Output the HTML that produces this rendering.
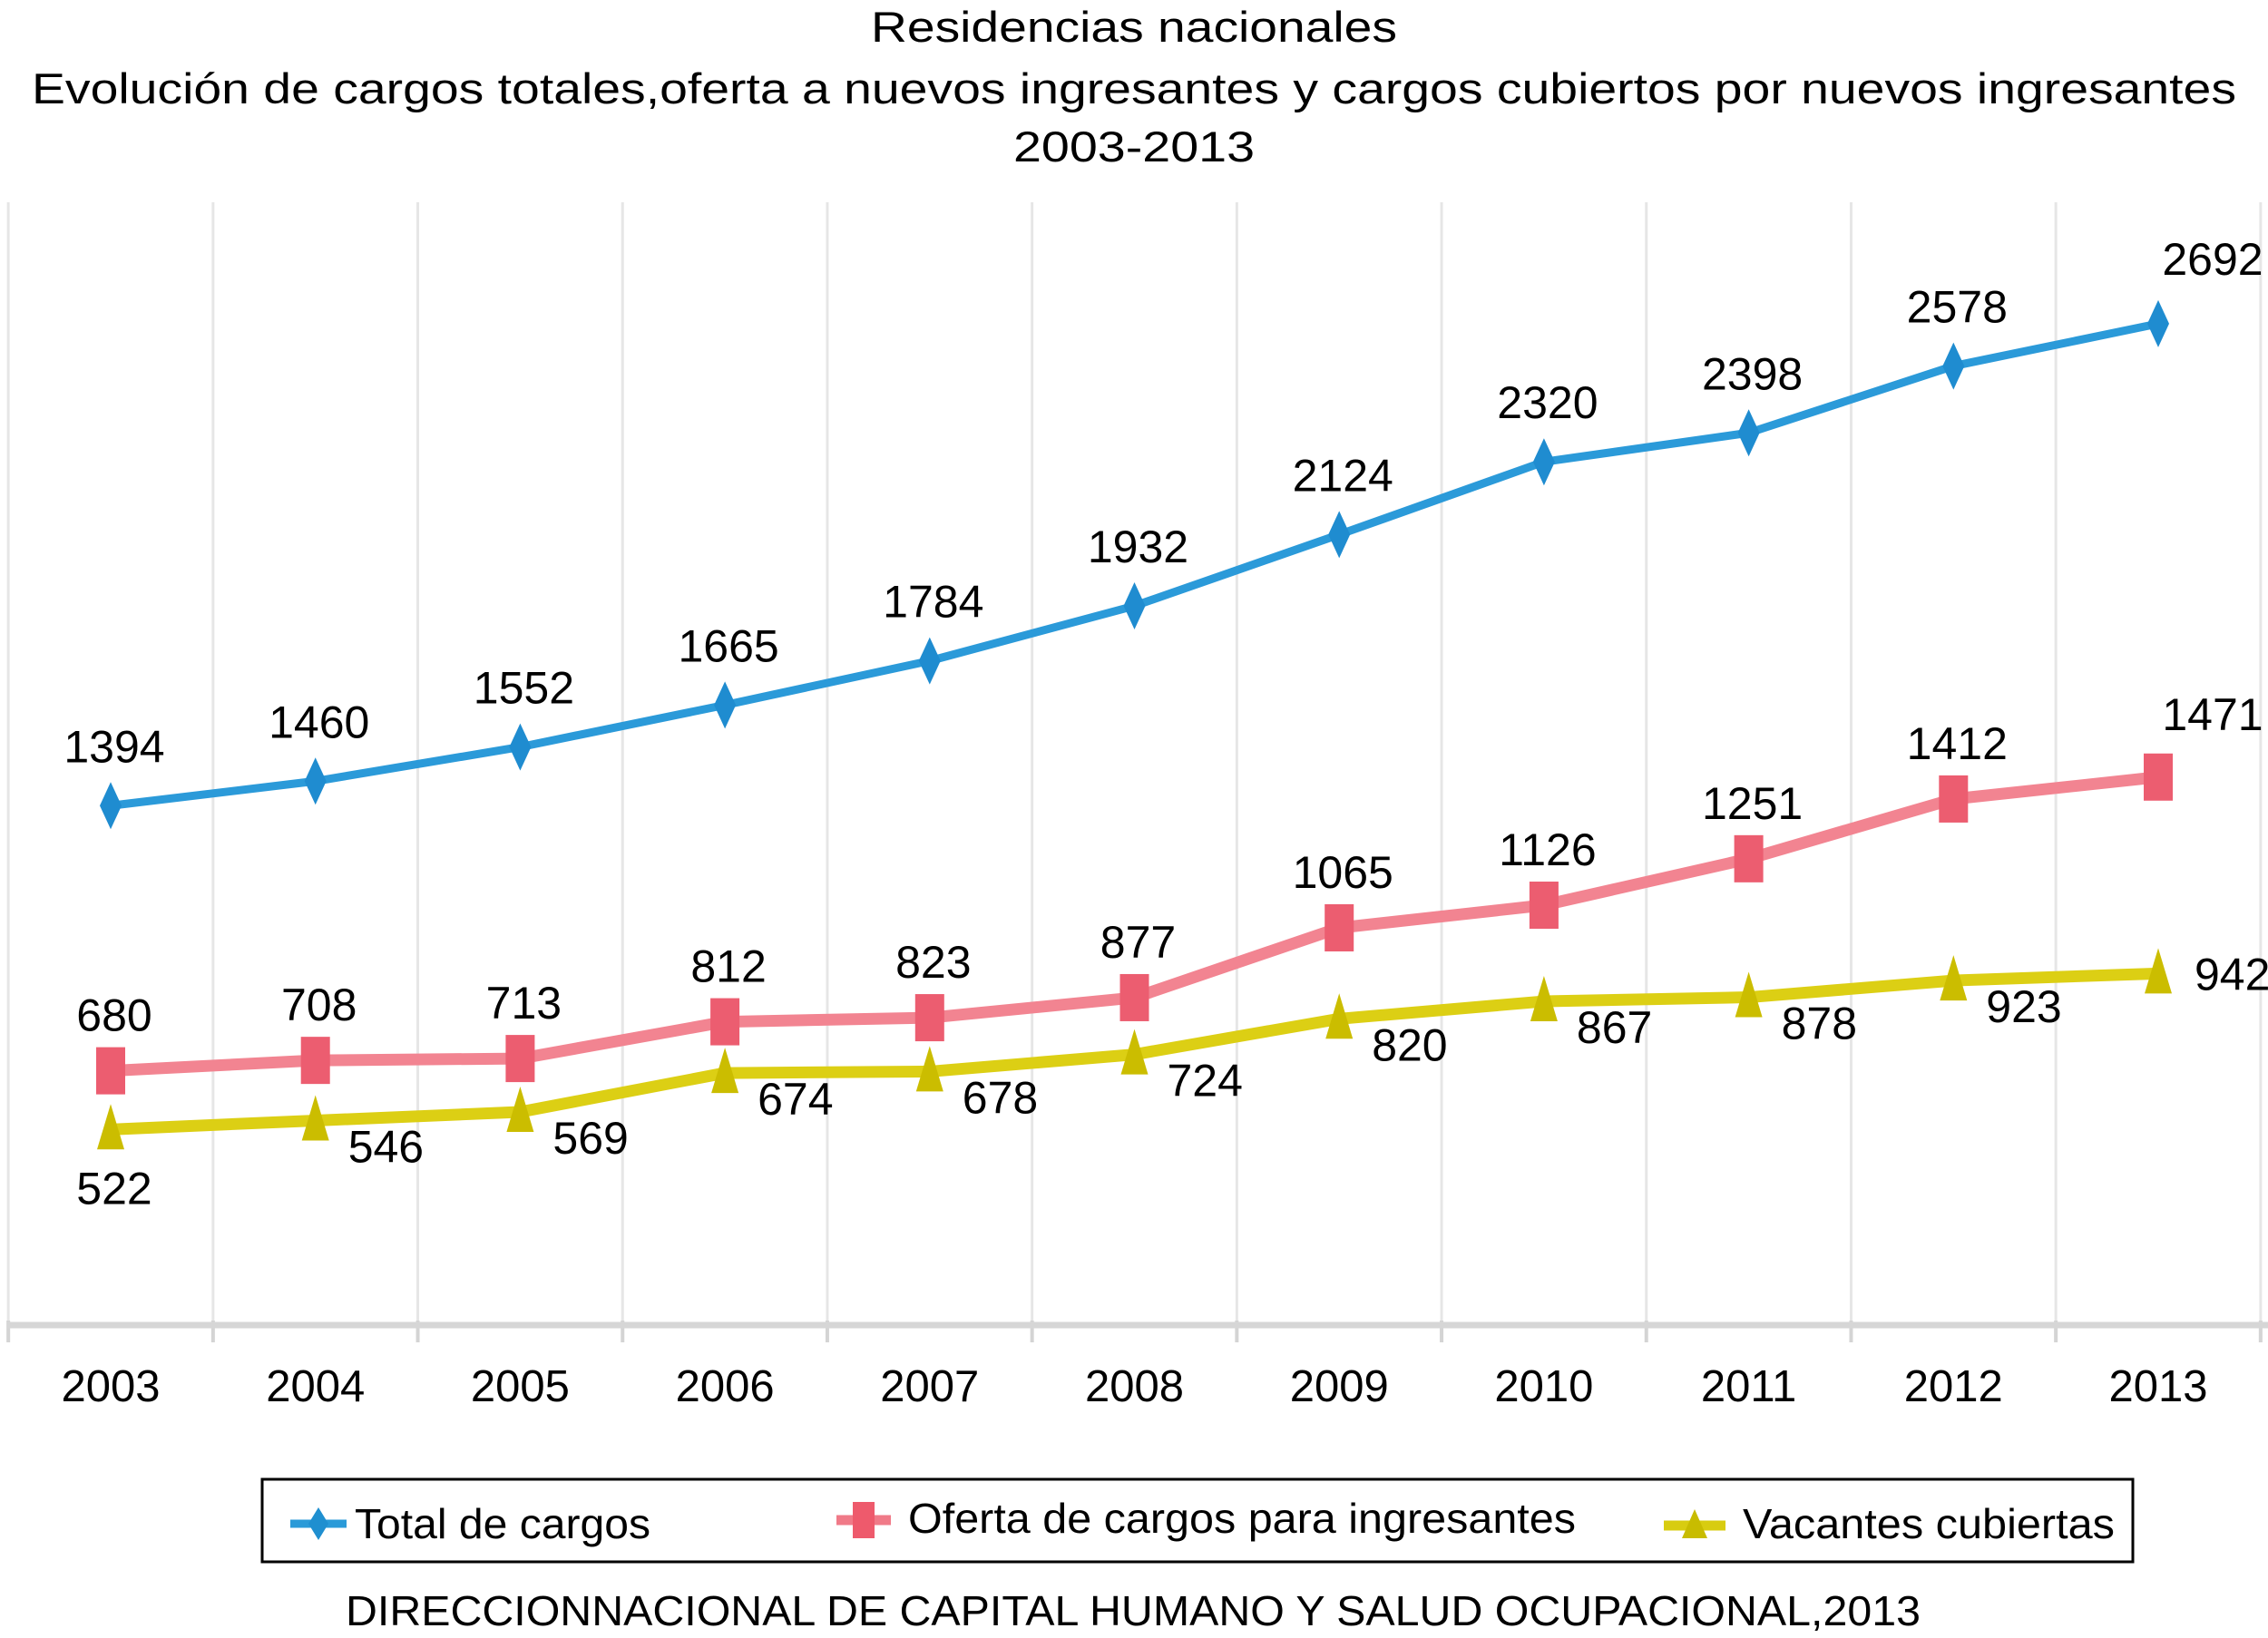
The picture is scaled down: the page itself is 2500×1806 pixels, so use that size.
<!DOCTYPE html>
<html><head><meta charset="utf-8"><style>
html,body{margin:0;padding:0;background:#fff;}
svg{display:block;font-family:"Liberation Sans",sans-serif;}
</style></head><body>
<svg id="chart" width="2500" height="1806" viewBox="0 0 2500 1806" xmlns="http://www.w3.org/2000/svg">
<g font-size="47" fill="#000" text-anchor="middle">
<text x="1250" y="46" textLength="580" lengthAdjust="spacingAndGlyphs">Residencias nacionales</text>
<text x="1250" y="114" textLength="2430" lengthAdjust="spacingAndGlyphs">Evolución de cargos totales,oferta a nuevos ingresantes y cargos cubiertos por nuevos ingresantes</text>
<text x="1250" y="178" textLength="266" lengthAdjust="spacingAndGlyphs">2003-2013</text>
</g>
<g id="grid"></g>
<g id="xaxis"></g>
<g id="series"></g>
<g id="labels" font-size="50" fill="#000"></g>
<g>
<rect x="289" y="1631" width="2062" height="91" fill="#fff" stroke="#000" stroke-width="3"/>
<g>
<line x1="320" y1="1680" x2="382" y2="1680" stroke="#2a9ad8" stroke-width="9"/>
<path d="M351 1662 L362 1680 L351 1698 L340 1680 Z" fill="#1f8fd0"/>
<text x="391" y="1696" font-size="46" textLength="326" lengthAdjust="spacingAndGlyphs">Total de cargos</text></g>
<g>
<line x1="922" y1="1676" x2="982" y2="1676" stroke="#f07a88" stroke-width="11"/>
<rect x="940" y="1656" width="24" height="40" fill="#ee5a6c"/>
<text x="1001" y="1690" font-size="46" textLength="736" lengthAdjust="spacingAndGlyphs">Oferta de cargos para ingresantes</text></g>
<g>
<line x1="1834" y1="1682" x2="1902" y2="1682" stroke="#d8cc10" stroke-width="11"/>
<path d="M1868 1664 L1882 1696 L1854 1696 Z" fill="#c8bc00"/>
<text x="1921" y="1696" font-size="46" textLength="410" lengthAdjust="spacingAndGlyphs">Vacantes cubiertas</text></g>
</g>
<text x="381" y="1792" font-size="46" textLength="1736" lengthAdjust="spacingAndGlyphs">DIRECCIONNACIONAL DE CAPITAL HUMANO Y SALUD OCUPACIONAL,2013</text>
</svg>
<script>
const years = ["2003","2004","2005","2006","2007","2008","2009","2010","2011","2012","2013"];
const totalCargos = [1394,1460,1552,1665,1784,1932,2124,2320,2398,2578,2692];
const ofertaCargos = [680,708,713,812,823,877,1065,1126,1251,1412,1471];
const vacantesCubiertas = [522,546,569,674,678,724,820,867,878,923,942];

const NS = "http://www.w3.org/2000/svg";
const x0 = 122, step = 225.7, yZero = 1459, k = 0.4094;
function xPos(i){ return x0 + i*step; }
function yPos(v){ return yZero - v*k; }
function mk(tag, attrs, parent){ const e=document.createElementNS(NS,tag); for(const a in attrs) e.setAttribute(a,attrs[a]); parent.appendChild(e); return e; }

const grid = document.getElementById('grid');
for(let i=0;i<=years.length;i++){
  const gx = xPos(i) - step/2;
  const l = mk('line',{x1:gx,y1:223,x2:gx,y2:1462,stroke:'#e6e6e6','stroke-width':3},grid);
  
  
  const t = mk('line',{x1:gx,y1:1456,x2:gx,y2:1480,stroke:'#d4d4d4','stroke-width':4},grid);
  
  
}
const xa = document.getElementById('xaxis');
const axl = mk('line',{x1:8,y1:1461,x2:2500,y2:1461,stroke:'#d6d6d6','stroke-width':7},xa);


years.forEach((y,i)=>{
  const t = mk('text',{x:xPos(i),y:1545,'text-anchor':'middle','font-size':49},xa);
  t.textContent = y;
  
  
});

const S = document.getElementById('series');
function drawSeries(vals, color, mcolor, width, shape, name){
  const g = mk('g',{},S);
  
  
  const pts = vals.map((v,i)=>xPos(i)+','+yPos(v)).join(' ');
  const pl = mk('polyline',{points:pts,fill:'none',stroke:color,'stroke-width':width,'stroke-linejoin':'round'},g);
  
  
  vals.forEach((v,i)=>{
    const cx=xPos(i), cy=yPos(v);
    let m;
    if(shape==='diamond') m = mk('path',{d:`M${cx} ${cy-26} L${cx+12} ${cy} L${cx} ${cy+26} L${cx-12} ${cy} Z`,fill:mcolor},g);
    else if(shape==='square') m = mk('rect',{x:cx-16,y:cy-26,width:32,height:52,fill:mcolor},g);
    else m = mk('path',{d:`M${cx} ${cy-28} L${cx+15} ${cy+22} L${cx-15} ${cy+22} Z`,fill:mcolor},g);
    
    
  });
}
drawSeries(vacantesCubiertas,'#dccf14','#cbbd00',13,'triangle','series-vacantes');
drawSeries(ofertaCargos,'#f28491','#ec5d70',13,'square','series-oferta');
drawSeries(totalCargos,'#2b9ad9','#1f8cd0',9,'diamond','series-total');

const L = document.getElementById('labels');
const n = years.length;
function label(txt,x,y,anchor,name){
  const t = mk('text',{x:x,y:y,'text-anchor':anchor},L);
  t.textContent = txt;
  
  
}
totalCargos.forEach((v,i)=>{
  if(i===n-1) label(v,xPos(i)+60,yPos(v)-54,'middle','label-total');
  else label(v,xPos(i)+4,yPos(v)-48,'middle','label-total');
});
ofertaCargos.forEach((v,i)=>{
  if(i===n-1) label(v,xPos(i)+60,yPos(v)-52,'middle','label-oferta');
  else label(v,xPos(i)+4,yPos(v)-44,'middle','label-oferta');
});
vacantesCubiertas.forEach((v,i)=>{
  if(i===0) label(v,xPos(i)+4,yPos(v)+82,'middle','label-vacantes');
  else if(i===n-1) label(v,xPos(i)+40,yPos(v)+18,'start','label-vacantes');
  else label(v,xPos(i)+36,yPos(v)+46,'start','label-vacantes');
});
</script>
</body></html>
